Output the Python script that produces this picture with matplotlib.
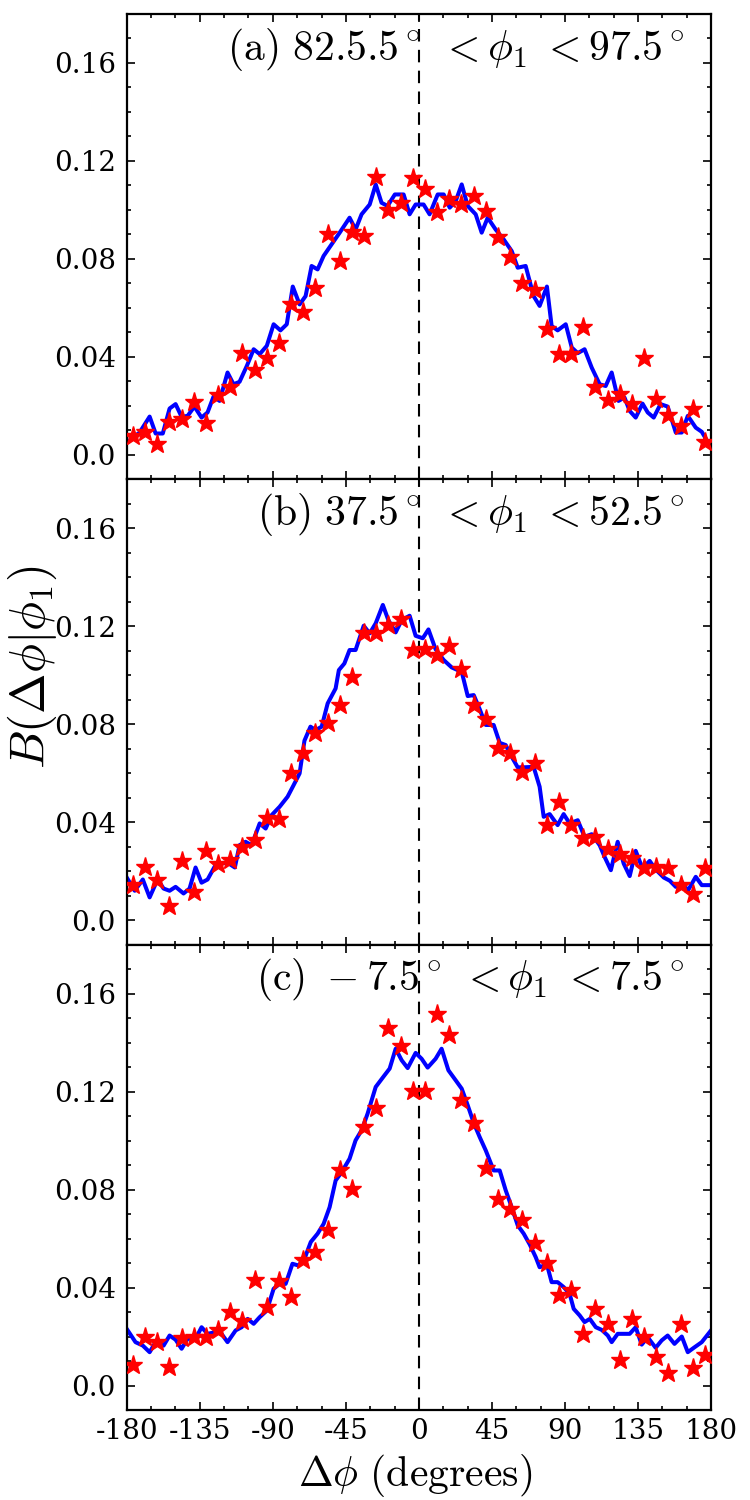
import numpy as np
import matplotlib
matplotlib.use("Agg")
import matplotlib.pyplot as plt
from matplotlib.ticker import MultipleLocator

plt.rcParams['font.family'] = 'DejaVu Serif'
plt.rcParams['mathtext.fontset'] = 'cm'
plt.rcParams['axes.unicode_minus'] = False

# star points: bin centres every 7.5 degrees
star_x = np.arange(-176.25, 180, 7.5)

stars_a = [0.0077, 0.0094, 0.0044, 0.0135, 0.0148, 0.0216, 0.0128, 0.0246, 0.0275, 0.0415,
           0.0347, 0.0397, 0.0458, 0.0614, 0.0585, 0.0681, 0.0903, 0.0791, 0.0911, 0.0893,
           0.1134, 0.0999, 0.1029, 0.1131, 0.1086, 0.0991, 0.1043, 0.1025, 0.1056, 0.0995,
           0.0890, 0.0809, 0.0703, 0.0673, 0.0515, 0.0411, 0.0411, 0.0523, 0.0275, 0.0224,
           0.0247, 0.0207, 0.0397, 0.0227, 0.0162, 0.0116, 0.0186, 0.0053]
stars_b = [0.0143, 0.0215, 0.0166, 0.0057, 0.0242, 0.0116, 0.0283, 0.0229, 0.0245, 0.0300,
           0.0327, 0.0419, 0.0411, 0.0599, 0.0684, 0.0763, 0.0807, 0.0878, 0.0991, 0.1174,
           0.1171, 0.1205, 0.1230, 0.1103, 0.1107, 0.1083, 0.1119, 0.1025, 0.0878, 0.0820,
           0.0704, 0.0681, 0.0606, 0.0640, 0.0388, 0.0483, 0.0388, 0.0334, 0.0338, 0.0289,
           0.0270, 0.0255, 0.0211, 0.0218, 0.0211, 0.0143, 0.0106, 0.0211]
stars_c = [0.0082, 0.0197, 0.0177, 0.0075, 0.0193, 0.0197, 0.0197, 0.0227, 0.0300, 0.0263,
           0.0429, 0.0320, 0.0425, 0.0361, 0.0513, 0.0547, 0.0636, 0.0878, 0.0803, 0.1055,
           0.1134, 0.1461, 0.1385, 0.1202, 0.1202, 0.1516, 0.1430, 0.1167, 0.1072, 0.0888,
           0.0763, 0.0722, 0.0674, 0.0581, 0.0500, 0.0368, 0.0391, 0.0211, 0.0313, 0.0252,
           0.0105, 0.0270, 0.0197, 0.0116, 0.0050, 0.0252, 0.0072, 0.0123]

line_a_x = [-180, -172.1, -165.9, -162.2, -157.8, -153.6, -149.9, -146.2, -142.5, -138.3,
            -133.9, -130.2, -126.5, -122.8, -117.9, -114.2, -110.5, -106.0, -101.8, -98.1,
            -93.7, -89.5, -85.3, -81.4, -77.7, -73.5, -69.8, -66.1, -62.4, -58.7,
            -53.8, -48.8, -42.7, -39.0, -35.3, -30.3, -26.6, -23.0, -19.3, -14.8,
            -9.4, -5.7, -2.0, 2.9, 6.6, 11.6, 15.3, 19.0, 22.7, 26.4,
            30.1, 35.0, 38.7, 42.4, 47.3, 52.2, 57.2, 60.9, 65.8, 70.7,
            74.4, 78.9, 81.8, 85.5, 90.5, 94.2, 97.9, 102.1, 106.5, 111.4,
            115.1, 118.8, 123.0, 126.7, 129.9, 133.6, 137.8, 141.0, 144.7, 148.9,
            153.3, 158.3, 162.0, 165.7, 170.6, 174.3, 180]
line_a_y = [0.0050, 0.0091, 0.0156, 0.0087, 0.0087, 0.0189, 0.0207, 0.0155, 0.0159, 0.0197,
            0.0152, 0.0173, 0.0238, 0.0220, 0.0336, 0.0288, 0.0298, 0.0363, 0.0431, 0.0411,
            0.0445, 0.0533, 0.0508, 0.0533, 0.0687, 0.0614, 0.0648, 0.0771, 0.0757, 0.0812,
            0.0859, 0.0907, 0.0968, 0.0920, 0.0982, 0.1022, 0.1104, 0.1029, 0.1016, 0.1063,
            0.1063, 0.0982, 0.1022, 0.1022, 0.0982, 0.1063, 0.1063, 0.1009, 0.1036, 0.1104,
            0.1016, 0.0982, 0.0907, 0.0968, 0.0920, 0.0880, 0.0832, 0.0764, 0.0771, 0.0648,
            0.0608, 0.0687, 0.0526, 0.0508, 0.0533, 0.0438, 0.0415, 0.0431, 0.0356, 0.0288,
            0.0281, 0.0336, 0.0220, 0.0234, 0.0179, 0.0152, 0.0209, 0.0173, 0.0152, 0.0207,
            0.0197, 0.0091, 0.0091, 0.0159, 0.0111, 0.0094, 0.0030]

line_b_x = [-180, -175.1, -170.1, -165.9, -161.0, -157.3, -153.6, -149.9, -145.0, -141.3,
            -137.6, -133.9, -130.2, -125.3, -120.3, -116.6, -113.4, -110.5, -106.8, -103.1,
            -98.1, -94.4, -90.7, -85.8, -80.9, -77.2, -73.5, -70.5, -66.8, -63.6,
            -59.9, -56.2, -51.3, -49.3, -45.9, -42.7, -39.0, -34.0, -30.3, -26.6,
            -22.2, -18.8, -14.3, -10.6, -5.7, -2.0, 2.4, 5.9, 10.3, 15.3,
            20.2, 23.9, 26.4, 30.1, 33.8, 37.5, 41.2, 46.1, 49.8, 53.5,
            57.2, 60.9, 64.6, 70.7, 74.4, 76.9, 80.6, 85.5, 89.2, 92.9,
            97.9, 102.1, 106.5, 111.4, 114.4, 118.3, 122.5, 126.2, 129.9, 133.6,
            137.8, 142.2, 145.9, 150.9, 154.6, 158.3, 162.0, 165.7, 170.6, 174.3, 180]
line_b_y = [0.0174, 0.0120, 0.0166, 0.0093, 0.0166, 0.0129, 0.0120, 0.0136, 0.0109, 0.0129,
            0.0215, 0.0153, 0.0166, 0.0225, 0.0234, 0.0229, 0.0215, 0.0306, 0.0320, 0.0306,
            0.0395, 0.0374, 0.0429, 0.0463, 0.0504, 0.0551, 0.0599, 0.0733, 0.0790, 0.0776,
            0.0790, 0.0885, 0.0946, 0.1021, 0.1048, 0.1103, 0.1103, 0.1202, 0.1171, 0.1212,
            0.1287, 0.1225, 0.1175, 0.1225, 0.1243, 0.1161, 0.1151, 0.1187, 0.1106, 0.1062,
            0.1032, 0.1021, 0.1014, 0.0915, 0.0919, 0.0861, 0.0797, 0.0797, 0.0724, 0.0715,
            0.0667, 0.0624, 0.0624, 0.0626, 0.0545, 0.0422, 0.0433, 0.0388, 0.0433, 0.0395,
            0.0408, 0.0340, 0.0351, 0.0306, 0.0259, 0.0204, 0.0320, 0.0231, 0.0180, 0.0283,
            0.0211, 0.0242, 0.0207, 0.0174, 0.0161, 0.0136, 0.0157, 0.0120, 0.0177, 0.0143, 0.0143]

line_c_x = [-180, -174.6, -170.1, -165.9, -162.2, -157.3, -153.6, -149.9, -146.2, -142.5,
            -137.6, -133.9, -130.2, -125.3, -121.6, -117.9, -112.9, -109.2, -105.5, -101.8,
            -98.1, -93.7, -89.5, -85.8, -82.1, -77.9, -74.2, -70.5, -66.6, -62.4,
            -58.7, -55.0, -51.3, -47.6, -42.7, -39.0, -35.3, -31.6, -26.6, -21.7,
            -18.0, -14.3, -10.6, -6.9, -2.0, 1.7, 5.4, 10.3, 14.0, 18.2,
            22.7, 26.4, 30.1, 33.8, 37.5, 41.2, 46.1, 49.8, 53.5, 57.2,
            60.9, 64.6, 68.3, 72.0, 74.4, 78.9, 81.8, 85.5, 89.2, 92.9,
            95.4, 99.1, 102.1, 105.3, 109.0, 112.7, 116.4, 118.8, 122.5, 126.2,
            129.9, 133.6, 137.3, 141.0, 145.9, 149.6, 153.3, 157.5, 162.0, 165.7,
            169.4, 174.3, 180]
line_c_y = [0.0231, 0.0177, 0.0163, 0.0136, 0.0177, 0.0163, 0.0204, 0.0187, 0.0150, 0.0191,
            0.0191, 0.0238, 0.0211, 0.0218, 0.0211, 0.0177, 0.0225, 0.0238, 0.0272, 0.0252,
            0.0279, 0.0306, 0.0395, 0.0415, 0.0415, 0.0497, 0.0490, 0.0517, 0.0586, 0.0620,
            0.0660, 0.0728, 0.0837, 0.0871, 0.0926, 0.1001, 0.1042, 0.1110, 0.1219, 0.1262,
            0.1294, 0.1375, 0.1328, 0.1296, 0.1358, 0.1334, 0.1298, 0.1334, 0.1375, 0.1287,
            0.1246, 0.1212, 0.1144, 0.1072, 0.1014, 0.0960, 0.0878, 0.0878, 0.0797, 0.0728,
            0.0654, 0.0620, 0.0576, 0.0524, 0.0483, 0.0494, 0.0422, 0.0422, 0.0402, 0.0374,
            0.0313, 0.0286, 0.0259, 0.0272, 0.0238, 0.0227, 0.0204, 0.0177, 0.0211, 0.0211,
            0.0211, 0.0238, 0.0167, 0.0197, 0.0154, 0.0184, 0.0204, 0.0170, 0.0200, 0.0136,
            0.0154, 0.0177, 0.0225]

titles = [r"$\mathrm{(a)\ 82.5.5^\circ}\ {<}\phi_1\ {<}\mathrm{97.5^\circ}$",
          r"$\mathrm{(b)\ 37.5^\circ}\ {<}\phi_1\ {<}\mathrm{52.5^\circ}$",
          r"$\mathrm{(c)}\ -\mathrm{7.5^\circ}\ {<}\phi_1\ {<}\mathrm{7.5^\circ}$"]

xticks = [-180, -135, -90, -45, 0, 45, 90, 135, 180]
xtick_labels = ['-180', '-135', '-90', '-45', '0', '45', '90', '135', '180']
yticks = [0.0, 0.04, 0.08, 0.12, 0.16]
ytick_labels = ['0.0', '0.04', '0.08', '0.12', '0.16']

fig = plt.figure(figsize=(7.5, 15), dpi=100)
gs = fig.add_gridspec(3, 1, left=0.169, right=0.948, top=0.9907, bottom=0.06, hspace=0)
axes = [fig.add_subplot(gs[i]) for i in range(3)]

panels = [(line_a_x, line_a_y, stars_a), (line_b_x, line_b_y, stars_b), (line_c_x, line_c_y, stars_c)]
for i, (ax, (lx, ly, st)) in enumerate(zip(axes, panels)):
    ax.plot(lx, ly, color='#0000ff', lw=2.9, zorder=2)
    ax.plot(star_x, st, linestyle='none', marker='*', ms=14, color='red', mec='red', zorder=3)
    ax.axvline(0, color='black', lw=1.5, ls=(0, (6, 4)), zorder=1)
    ax.set_xlim(-180, 180)
    ax.set_ylim(-0.01, 0.18)
    ax.set_xticks(xticks)
    ax.set_yticks(yticks)
    ax.set_yticklabels(ytick_labels)
    ax.xaxis.set_minor_locator(MultipleLocator(15))
    ax.yaxis.set_minor_locator(MultipleLocator(0.01))
    ax.tick_params(which='both', direction='in', top=True, right=True, labelsize=20, width=1.2)
    ax.tick_params(which='major', length=6)
    ax.tick_params(axis='y', which='major', pad=8)
    ax.tick_params(axis='x', which='major', pad=6)
    ax.tick_params(which='minor', length=3)
    for sp in ax.spines.values():
        sp.set_linewidth(1.6)
    if i < 2:
        ax.set_xticklabels([])
    else:
        ax.set_xticklabels(xtick_labels)
    ax.text(0.955, 0.975, titles[i], transform=ax.transAxes, ha='right', va='top', fontsize=30)

fig.text(0.043, 0.555, r"$B(\Delta\phi|\phi_1)$", rotation=90, ha='center', va='center', fontsize=35)
fig.text(0.553, 0.0165, r"$\Delta\phi\ \mathrm{(degrees)}$", ha='center', va='center', fontsize=30)

fig.savefig("out.png", dpi=100)
